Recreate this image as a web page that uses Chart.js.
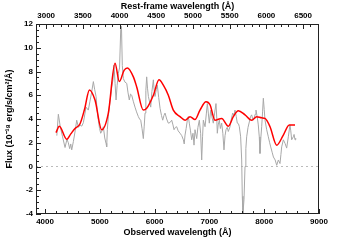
<!DOCTYPE html>
<html>
<head>
<meta charset="utf-8">
<script src="https://cdn.jsdelivr.net/npm/chart.js@4/dist/chart.umd.min.js"></script>
<style>
  html, body { margin: 0; padding: 0; background: #fff; }
  #wrap { width: 355px; height: 240px; }
</style>
</head>
<body>
<div id="wrap"><canvas id="spec" width="355" height="240"></canvas></div>
<script>
// observed spectrum (grey line)
var obsWave = [4215, 4243, 4280, 4320, 4365, 4400, 4425, 4450, 4469, 4487, 4517, 4550, 4578, 4610, 4639, 4670, 4700, 4748, 4790, 4820,
    4852, 4882, 4905, 4931, 4950, 4973, 4995, 5016, 5040, 5064, 5090, 5113, 5125, 5137, 5155, 5173, 5195, 5217, 5240, 5259,
    5278, 5296, 5315, 5338, 5360, 5381, 5395, 5410, 5429, 5460, 5491, 5515, 5538, 5560, 5582, 5610, 5642, 5670, 5703, 5725,
    5746, 5770, 5794, 5810, 5825, 5840, 5855, 5870, 5886, 5910, 5929, 5950, 5977, 5990, 6007, 6030, 6049, 6075, 6099, 6125,
    6148, 6170, 6190, 6220, 6250, 6280, 6312, 6335, 6354, 6380, 6403, 6430, 6464, 6495, 6524, 6540, 6555, 6575, 6597, 6615,
    6633, 6655, 6677, 6700, 6719, 6737, 6768, 6790, 6816, 6840, 6859, 6875, 6889, 6920, 6945, 6962, 6980, 6998, 7024, 7045,
    7071, 7095, 7120, 7135, 7144, 7160, 7181, 7200, 7224, 7245, 7266, 7285, 7303, 7325, 7345, 7376, 7400, 7425, 7447, 7467,
    7490, 7509, 7530, 7546, 7570, 7589, 7600, 7612, 7631, 7650, 7665, 7680, 7705, 7728, 7750, 7771, 7795, 7814, 7835, 7850,
    7872, 7892, 7910, 7923, 7940, 7954, 7970, 7984, 8000, 8015, 8045, 8075, 8100, 8119, 8145, 8168, 8200, 8228, 8258, 8288,
    8305, 8319, 8349, 8380, 8410, 8440, 8470, 8485, 8501, 8531, 8545, 8562, 8575];
var obsFlux = [2.6, 4.4, 3.3, 2.5, 1.6, 2.3, 2.0, 1.5, 1.9, 1.4, 2.1, 3.0, 3.9, 3.3, 3.5, 3.4, 3.7, 5.0, 4.75, 5.5,
    6.3, 7.15, 6.5, 5.9, 4.8, 3.9, 3.2, 2.8, 3.0, 3.35, 2.4, 1.95, 1.65, 3.1, 4.2, 5.0, 5.8, 6.7, 7.3, 8.55,
    7.0, 5.6, 6.8, 7.85, 8.3, 11.5, 11.8, 8.5, 7.4, 7.1, 7.0, 6.2, 5.6, 6.1, 6.0, 5.5, 5.0, 4.6, 4.2, 4.0,
    3.9, 3.2, 2.35, 3.4, 4.5, 6.4, 7.55, 6.6, 5.9, 5.4, 5.0, 6.3, 7.3, 6.5, 5.9, 6.5, 6.85, 5.8, 4.9, 4.3,
    3.9, 4.3, 4.5, 4.0, 3.65, 3.7, 3.9, 3.5, 3.1, 3.3, 3.35, 3.0, 2.8, 2.6, 2.25, 1.9, 2.65, 3.2, 3.9, 4.2,
    3.65, 3.0, 2.25, 2.8, 1.8, 3.1, 2.35, 3.3, 3.9, 2.8, 0.55, 2.5, 3.9, 3.35, 4.5, 5.3, 4.5, 3.65, 4.75, 4.2,
    3.65, 4.5, 5.3, 4.0, 2.8, 3.5, 3.9, 3.2, 3.65, 2.8, 1.4, 2.6, 3.1, 3.3, 2.95, 3.35, 4.0, 4.5, 4.3, 4.75,
    4.2, 3.65, 3.6, 3.35, 2.5, 0.55, -2.5, -3.95, -2.8, 0.0, 1.5, 2.5, 3.3, 3.75, 4.2, 4.35, 3.9, 4.05, 4.4, 4.75,
    4.2, 3.5, 2.5, 1.1, 2.5, 3.35, 4.6, 5.75, 4.8, 3.9, 3.1, 2.5, 2.0, 1.65, 1.2, 0.8, 0.55, 0.1, 0.55, 0.25,
    1.0, 1.65, 2.25, 1.95, 1.55, 2.5, 3.5, 3.0, 2.25, 2.5, 2.7, 2.25, 2.4];

// smooth model (red line)
var modelWave = [4200, 4261, 4396, 4470, 4547, 4639, 4720, 4810, 4912, 5034, 5155, 5277, 5356, 5442, 5502, 5612, 5673, 5794, 5855, 5977,
    6080, 6159, 6250, 6341, 6464, 6555, 6646, 6737, 6828, 6938, 7011, 7102, 7224, 7345, 7436, 7527, 7650, 7771, 7863, 7954,
    8015, 8106, 8228, 8349, 8458, 8562];
var modelFlux = [2.85, 3.4, 2.3, 2.75, 3.2, 3.6, 4.8, 6.45, 5.6, 3.1, 4.5, 8.7, 7.15, 8.1, 8.3, 7.55, 6.7, 4.75, 4.9, 6.0,
    7.3, 6.85, 6.0, 4.75, 4.2, 3.9, 4.2, 3.95, 4.75, 5.45, 5.2, 3.9, 4.05, 3.4, 4.2, 4.7, 4.35, 3.9, 4.2, 4.1,
    4.05, 3.35, 1.8, 2.65, 3.5, 3.5];

var redshift = 0.34;
var obsTicks = [4000, 5000, 6000, 7000, 8000, 9000];
var restTicks = [3000, 3500, 4000, 4500, 5000, 5500, 6000, 6500];
var fluxTicks = [-4, -2, 0, 2, 4, 6, 8, 10, 12];

var xMin = 3835, xMax = 9000;

function toPoints(xs, ys) {
    return xs.map(function (x, i) { return { x: x, y: ys[i] }; });
}

function plain(v) { return String(v); }

// frame and inward pointing tick marks (IDL style)
var inwardTicks = {
    id: 'inwardTicks',
    afterDraw: function (chart) {
        var ctx = chart.ctx, a = chart.chartArea;
        var sx = chart.scales.x, sx2 = chart.scales.x2, sy = chart.scales.y;
        ctx.save();
        ctx.strokeStyle = '#222';
        ctx.lineWidth = 1;
        ctx.strokeRect(Math.round(a.left) + 0.5, Math.round(a.top) + 0.5,
            Math.round(a.right - a.left) - 1, Math.round(a.bottom - a.top) - 1);
        ctx.beginPath();
        var v, p, len;
        for (v = 4000; v <= 9000; v += 200) {
            p = Math.round(sx.getPixelForValue(v)) + 0.5;
            len = (v % 1000 === 0) ? 5 : 3;
            ctx.moveTo(p, a.bottom); ctx.lineTo(p, a.bottom - len);
        }
        for (v = 2900; v <= 6700; v += 100) {
            p = Math.round(sx2.getPixelForValue(v)) + 0.5;
            len = (v % 500 === 0) ? 5 : 3;
            ctx.moveTo(p, a.top); ctx.lineTo(p, a.top + len);
        }
        for (v = -4; v <= 12; v += 0.5) {
            p = Math.round(sy.getPixelForValue(v)) + 0.5;
            len = (v % 2 === 0) ? 5 : 3;
            ctx.moveTo(a.left, p); ctx.lineTo(a.left + len, p);
        }
        ctx.stroke();
        ctx.restore();
    }
};

var tickFont = { family: 'Liberation Sans', size: 8, weight: 'bold' };
var titleFont = { family: 'Liberation Sans', size: 9, weight: 'bold' };

var ctx = document.getElementById('spec').getContext('2d');
var chart = new Chart(ctx, {
    type: 'line',
    data: {
        datasets: [{
            label: 'model',
            data: toPoints(modelWave, modelFlux),
            borderColor: '#ff0000',
            borderWidth: 1.5,
            cubicInterpolationMode: 'monotone',
            pointRadius: 0,
            order: 0
        }, {
            label: 'spectrum',
            data: toPoints(obsWave, obsFlux),
            borderColor: '#a8a8a8',
            borderWidth: 1,
            tension: 0,
            pointRadius: 0,
            order: 1
        }, {
            label: 'zero',
            data: toPoints([xMin, xMax], [0, 0]),
            borderColor: '#bbbbbb',
            borderWidth: 1,
            borderDash: [2, 3],
            pointRadius: 0,
            order: 2
        }]
    },
    options: {
        responsive: false,
        animation: false,
        layout: { padding: { left: 0, right: 36, top: 0, bottom: 0 } },
        plugins: {
            legend: { display: false },
            tooltip: { enabled: false }
        },
        scales: {
            x: {
                type: 'linear',
                position: 'bottom',
                min: xMin,
                max: xMax,
                grid: { display: false, drawTicks: false },
                border: { display: false },
                ticks: { color: '#000', font: tickFont, padding: 3, maxRotation: 0, callback: plain },
                title: { display: true, text: 'Observed wavelength (Å)', color: '#000', font: titleFont, padding: { top: 0, bottom: 2 } },
                afterBuildTicks: function (s) { s.ticks = obsTicks.map(function (v) { return { value: v }; }); },
                afterFit: function (s) { s.height = 26; }
            },
            x2: {
                type: 'linear',
                position: 'top',
                min: xMin / (1 + redshift),
                max: xMax / (1 + redshift),
                grid: { display: false, drawTicks: false },
                border: { display: false },
                ticks: { color: '#000', font: tickFont, padding: 3, maxRotation: 0, callback: plain },
                title: { display: true, text: 'Rest-frame wavelength (Å)', color: '#000', font: titleFont, padding: { top: 1, bottom: 0 } },
                afterBuildTicks: function (s) { s.ticks = restTicks.map(function (v) { return { value: v }; }); },
                afterFit: function (s) { s.height = 24; }
            },
            y: {
                type: 'linear',
                position: 'left',
                min: -4,
                max: 12,
                grid: { display: false, drawTicks: false },
                border: { display: false },
                ticks: { color: '#000', font: tickFont, padding: 3, callback: plain },
                title: { display: true, text: 'Flux (10⁻¹⁸ erg/s/cm²/Å)', color: '#000', font: titleFont, padding: { top: 4, bottom: 0 } },
                afterBuildTicks: function (s) { s.ticks = fluxTicks.map(function (v) { return { value: v }; }); },
                afterFit: function (s) { s.width = 36; }
            }
        }
    },
    plugins: [inwardTicks]
});
</script>
</body>
</html>
